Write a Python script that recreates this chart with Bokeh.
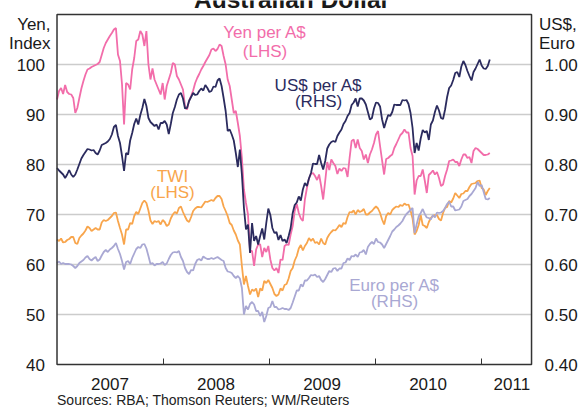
import pandas as pd
from bokeh.plotting import figure
from bokeh.models import (Range1d, LinearAxis, FixedTicker, CustomJSTickFormatter,
                          NumeralTickFormatter, Label, BoxAnnotation)
from bokeh.embed import file_html
from bokeh.resources import INLINE

# ---------------- data (weekly) ----------------
dates = pd.date_range("2007-01-01", periods=214, freq="7D")

yen_lhs = [
    93.0, 94.7, 95.3, 94.1, 95.9, 94.5, 94.1, 94.0, 93.3, 90.3,
    91.3, 93.3, 95.2, 96.7, 98.0, 99.0, 99.2, 99.5, 99.7, 99.9,
    100.1, 100.5, 101.9, 103.3, 104.3, 105.0, 105.7, 106.3, 107.0, 107.3,
    102.0, 100.7, 96.0, 88.0, 96.3, 96.0, 95.0, 99.0, 101.3, 104.7,
    105.0, 106.7, 106.0, 103.7, 106.7, 100.0, 97.0, 99.2, 97.0, 96.0,
    95.0, 94.0, 96.3, 93.0, 95.7, 97.0, 98.3, 100.3, 100.0, 97.7,
    97.0, 96.0, 95.0, 91.7, 91.0, 92.8, 93.7, 94.8, 96.3, 97.3,
    98.1, 99.0, 99.7, 100.5, 101.2, 101.9, 103.0, 103.2, 102.7, 103.1,
    104.0, 103.7, 101.7, 100.0, 97.0, 95.7, 93.0, 90.3, 90.7, 88.3,
    85.7, 81.3, 75.0, 72.3, 70.0, 62.7, 62.7, 59.7, 63.0, 64.0,
    64.0, 61.5, 63.3, 62.5, 63.7, 61.0, 59.3, 58.8, 59.3, 58.3,
    61.0, 60.9, 63.7, 64.0, 63.9, 66.0, 67.7, 70.7, 72.1, 70.3,
    69.2, 68.7, 73.0, 75.3, 77.2, 78.1, 78.3, 77.7, 76.9, 78.0,
    75.7, 73.0, 76.7, 80.5, 78.9, 81.0, 80.3, 79.7, 78.1, 79.2,
    78.7, 79.3, 79.2, 77.5, 81.3, 84.7, 85.0, 83.3, 85.0, 83.3,
    82.7, 81.0, 82.0, 80.3, 82.0, 83.0, 84.3, 86.0, 86.7, 83.7,
    80.8, 78.0, 81.1, 81.3, 81.7, 82.0, 83.3, 84.1, 85.0, 85.9,
    86.3, 87.0, 86.4, 86.4, 83.3, 81.7, 74.0, 76.8, 77.7, 77.7,
    79.0, 76.8, 74.3, 77.9, 78.3, 78.8, 78.0, 78.5, 77.3, 75.7,
    76.0, 77.7, 79.0, 80.7, 80.8, 81.0, 80.5, 80.5, 79.7, 81.0,
    82.0, 82.0, 81.3, 81.5, 80.3, 82.7, 83.3, 83.1, 82.7, 82.3,
    81.9, 81.9, 82.0, 82.3,
]

usd_rhs = [
    0.793, 0.788, 0.784, 0.780, 0.773, 0.780, 0.789, 0.780, 0.775, 0.780,
    0.790, 0.801, 0.812, 0.819, 0.825, 0.831, 0.830, 0.828, 0.829, 0.823,
    0.820, 0.828, 0.839, 0.841, 0.843, 0.846, 0.851, 0.860, 0.875, 0.879,
    0.857, 0.843, 0.817, 0.787, 0.823, 0.820, 0.848, 0.863, 0.881, 0.892,
    0.880, 0.899, 0.913, 0.931, 0.917, 0.893, 0.885, 0.881, 0.877, 0.880,
    0.870, 0.883, 0.883, 0.887, 0.880, 0.861, 0.881, 0.903, 0.915, 0.930,
    0.940, 0.943, 0.932, 0.912, 0.913, 0.927, 0.935, 0.943, 0.939, 0.940,
    0.947, 0.952, 0.948, 0.959, 0.953, 0.945, 0.947, 0.956, 0.955, 0.968,
    0.972, 0.957, 0.933, 0.907, 0.867, 0.870, 0.860, 0.848, 0.823, 0.795,
    0.830, 0.780, 0.713, 0.670, 0.680, 0.623, 0.683, 0.647, 0.657, 0.640,
    0.657, 0.672, 0.650, 0.683, 0.712, 0.699, 0.673, 0.663, 0.665, 0.649,
    0.659, 0.647, 0.650, 0.643, 0.657, 0.673, 0.703, 0.719, 0.724, 0.736,
    0.728, 0.750, 0.763, 0.757, 0.772, 0.783, 0.802, 0.801, 0.801, 0.819,
    0.803, 0.790, 0.807, 0.832, 0.840, 0.845, 0.847, 0.845, 0.857, 0.864,
    0.870, 0.881, 0.887, 0.897, 0.903, 0.919, 0.924, 0.932, 0.916, 0.932,
    0.932, 0.928, 0.920, 0.905, 0.890, 0.893, 0.912, 0.924, 0.923, 0.916,
    0.890, 0.873, 0.887, 0.899, 0.897, 0.905, 0.920, 0.919, 0.919, 0.919,
    0.929, 0.928, 0.929, 0.921, 0.903, 0.873, 0.823, 0.843, 0.828, 0.852,
    0.869, 0.864, 0.867, 0.849, 0.880, 0.888, 0.905, 0.918, 0.908, 0.893,
    0.891, 0.910, 0.935, 0.953, 0.958, 0.969, 0.983, 0.985, 0.975, 0.996,
    1.007, 0.999, 0.987, 0.977, 0.968, 0.985, 0.992, 1.001, 1.010, 0.998,
    0.992, 0.991, 0.997, 1.010,
]

twi_lhs = [
    65.0, 64.7, 65.2, 64.4, 64.5, 64.9, 65.1, 65.5, 65.5, 64.3,
    64.1, 65.3, 65.8, 66.2, 66.8, 67.6, 67.3, 66.7, 67.0, 67.3,
    67.0, 67.0, 68.4, 68.9, 68.7, 68.9, 69.3, 69.7, 70.3, 70.4,
    68.7, 67.3, 66.0, 64.0, 67.0, 67.0, 68.3, 68.1, 69.7, 70.5,
    70.1, 71.2, 72.3, 72.8, 72.3, 70.8, 68.8, 68.1, 68.7, 68.5,
    68.7, 68.0, 68.9, 68.5, 67.7, 68.0, 69.2, 70.0, 70.5, 70.2,
    71.3, 71.6, 70.5, 69.6, 68.8, 68.5, 69.5, 70.7, 71.2, 71.5,
    71.5, 71.4, 72.0, 72.6, 72.5, 72.7, 72.9, 72.7, 73.3, 73.7,
    73.7, 73.1, 71.6, 70.7, 69.7, 68.3, 67.9, 66.8, 66.0, 64.8,
    64.0, 59.7, 56.0, 57.7, 55.7, 54.0, 55.0, 54.7, 55.2, 53.5,
    55.2, 54.8, 56.7, 56.3, 56.9, 56.1, 55.3, 54.1, 53.7, 54.0,
    55.2, 54.8, 55.9, 56.1, 57.2, 58.7, 59.3, 60.8, 61.7, 63.2,
    63.9, 62.8, 63.7, 64.3, 65.3, 64.7, 65.2, 64.3, 64.5, 64.0,
    65.2, 64.3, 64.0, 65.3, 66.0, 66.5, 66.9, 66.8, 67.3, 67.9,
    67.5, 68.3, 68.1, 69.5, 70.5, 70.4, 70.8, 70.0, 70.9, 70.5,
    70.7, 71.1, 70.0, 70.0, 70.4, 70.7, 71.2, 71.6, 71.2, 70.3,
    69.0, 68.0, 69.7, 70.3, 70.0, 70.9, 71.3, 71.6, 71.5, 71.9,
    71.7, 72.2, 71.9, 72.0, 70.8, 69.2, 66.0, 66.7, 67.9, 69.9,
    67.9, 67.7, 67.3, 68.5, 69.3, 69.7, 69.9, 69.9, 69.1, 68.8,
    70.3, 71.3, 71.5, 72.7, 72.4, 73.2, 74.3, 73.8, 73.3, 74.1,
    74.2, 74.7, 74.7, 75.5, 76.1, 76.2, 76.3, 76.7, 76.8, 75.3,
    75.0, 73.9, 74.7, 75.3,
]

euro_rhs = [
    0.603, 0.606, 0.601, 0.603, 0.601, 0.601, 0.601, 0.600, 0.597, 0.593,
    0.597, 0.603, 0.606, 0.609, 0.614, 0.617, 0.611, 0.608, 0.612, 0.615,
    0.607, 0.610, 0.618, 0.625, 0.629, 0.625, 0.630, 0.633, 0.637, 0.643,
    0.631, 0.621, 0.607, 0.590, 0.605, 0.607, 0.601, 0.613, 0.622, 0.631,
    0.635, 0.633, 0.640, 0.641, 0.632, 0.617, 0.601, 0.603, 0.598, 0.601,
    0.601, 0.602, 0.605, 0.599, 0.602, 0.611, 0.619, 0.624, 0.625, 0.624,
    0.627, 0.615, 0.607, 0.593, 0.585, 0.581, 0.589, 0.588, 0.601, 0.609,
    0.611, 0.608, 0.616, 0.613, 0.611, 0.611, 0.613, 0.611, 0.613, 0.615,
    0.612, 0.609, 0.607, 0.593, 0.586, 0.585, 0.583, 0.577, 0.573, 0.577,
    0.572, 0.553, 0.500, 0.517, 0.510, 0.521, 0.525, 0.520, 0.507, 0.507,
    0.497, 0.505, 0.485, 0.497, 0.513, 0.515, 0.527, 0.515, 0.515, 0.510,
    0.511, 0.513, 0.511, 0.511, 0.509, 0.513, 0.524, 0.536, 0.548, 0.548,
    0.560, 0.556, 0.568, 0.568, 0.573, 0.579, 0.578, 0.580, 0.575, 0.577,
    0.569, 0.565, 0.571, 0.579, 0.587, 0.585, 0.592, 0.593, 0.587, 0.592,
    0.592, 0.603, 0.604, 0.612, 0.609, 0.617, 0.616, 0.620, 0.615, 0.624,
    0.625, 0.629, 0.620, 0.635, 0.641, 0.645, 0.641, 0.652, 0.645, 0.644,
    0.640, 0.633, 0.641, 0.649, 0.657, 0.666, 0.670, 0.675, 0.678, 0.682,
    0.687, 0.695, 0.701, 0.705, 0.709, 0.713, 0.663, 0.680, 0.696, 0.703,
    0.711, 0.701, 0.694, 0.693, 0.690, 0.699, 0.694, 0.704, 0.703, 0.704,
    0.707, 0.713, 0.721, 0.726, 0.716, 0.716, 0.708, 0.709, 0.710, 0.716,
    0.727, 0.729, 0.731, 0.737, 0.741, 0.747, 0.753, 0.765, 0.757, 0.759,
    0.745, 0.731, 0.730, 0.733,
]

lhs_ticks = [40, 50, 60, 70, 80, 90, 100]
rhs_ticks = [0.40, 0.50, 0.60, 0.70, 0.80, 0.90, 1.00]
year_label_pos = [2007.5, 2008.5, 2009.5, 2010.5, 2011.29]
year_bounds = [2008, 2009, 2010, 2011]

# plot box (data limits of the framed area)
X0, X1 = 2007.0, 2011.476
Y0, Y1 = 40.0, 110.0

# decimal-year x values for the weekly dates
t = [2007 + (d - pd.Timestamp("2007-01-01")).days / 365.25 for d in dates]

PINK = "#F26DAA"
NAVY = "#2B2B5E"
ORANGE = "#F8A54C"
LAV = "#A9A8D3"
TXT = "#1a1a1a"
FONT = "Liberation Sans"

# the Bokeh frame covers the whole canvas; the chart box sits inside it
p = figure(width=578, height=407, output_backend="svg", toolbar_location=None,
           x_range=Range1d(2006.467, 2011.919), y_range=Range1d(31.4, 112.8),
           x_axis_location=None, y_axis_location=None,
           min_border_left=0, min_border_right=0, min_border_top=0,
           min_border_bottom=0, background_fill_color="white",
           border_fill_color="white", outline_line_color=None)
p.extra_y_ranges = {"rhs": Range1d(0.314, 1.128)}
p.grid.visible = False

# horizontal grid lines at the LHS ticks
grid_levels = lhs_ticks[1:]
p.segment(x0=X0, x1=X1, y0=grid_levels, y1=grid_levels,
          line_color="#cccccc", line_width=1.5)

# frame box
p.add_layout(BoxAnnotation(left=X0, right=X1, bottom=Y0, top=Y1,
                           fill_color=None, line_color="#333333",
                           line_width=1.5, line_alpha=1.0))

# bottom axis: tick marks at year boundaries
xt = LinearAxis(ticker=FixedTicker(ticks=year_bounds), fixed_location=Y0,
                bounds=(X0, X1),
                formatter=CustomJSTickFormatter(code="return '';"))
xt.major_label_text_font_size = "0px"
xt.major_tick_in = 6
xt.major_tick_out = 0
xt.major_tick_line_color = "#333333"
xt.major_tick_line_width = 1
xt.minor_tick_line_color = None
xt.axis_line_color = None
p.add_layout(xt, "below")

# bottom axis: year labels centred in each year
xl = LinearAxis(ticker=FixedTicker(ticks=year_label_pos), fixed_location=Y0,
                bounds=(X0, X1),
                formatter=CustomJSTickFormatter(code="return String(Math.floor(tick));"))
xl.major_tick_line_color = None
xl.minor_tick_line_color = None
xl.axis_line_color = None
xl.major_label_standoff = 7
p.add_layout(xl, "below")

ya = LinearAxis(ticker=FixedTicker(ticks=lhs_ticks), fixed_location=X0,
                bounds=(Y0, Y1))
ya.major_tick_line_color = None
ya.minor_tick_line_color = None
ya.axis_line_color = None
ya.major_label_standoff = 6
p.add_layout(ya, "left")

ra = LinearAxis(y_range_name="rhs", ticker=FixedTicker(ticks=rhs_ticks),
                formatter=NumeralTickFormatter(format="0.00"),
                fixed_location=X1, bounds=(0.40, 1.10))
ra.major_tick_line_color = None
ra.minor_tick_line_color = None
ra.axis_line_color = None
ra.major_label_standoff = 7
p.add_layout(ra, "right")

for ax in (xl, ya, ra):
    ax.major_label_text_font = FONT
    ax.major_label_text_font_size = "17px"
    ax.major_label_text_color = TXT

p.line(t, twi_lhs, color=ORANGE, line_width=1.8)
p.line(t, euro_rhs, y_range_name="rhs", color=LAV, line_width=1.8)
p.line(t, yen_lhs, color=PINK, line_width=1.8)
p.line(t, usd_rhs, y_range_name="rhs", color=NAVY, line_width=1.8)


def lab(x, y, text, color, align="center", size="17px", baseline="middle",
        style="normal"):
    p.add_layout(Label(x=x, y=y, text=text, text_align=align,
                       text_baseline=baseline, text_font=FONT,
                       text_font_size=size, text_color=color,
                       text_font_style=style))


# series labels
lab(2008.962, 106.4, "Yen per A$", PINK)
lab(2008.962, 102.6, "(LHS)", PINK)
lab(2009.467, 95.8, "US$ per A$", NAVY)
lab(2009.467, 92.6, "(RHS)", NAVY)
lab(2008.090, 77.6, "TWI", ORANGE)
lab(2008.090, 74.4, "(LHS)", ORANGE)
lab(2010.184, 55.9, "Euro per A$", LAV)
lab(2010.184, 52.7, "(RHS)", LAV)

# unit labels, title (its top is cropped off in the original) and source note
lab(2006.939, 108.0, "Yen,", TXT, align="right")
lab(2006.939, 104.2, "Index", TXT, align="right")
lab(2011.546, 108.0, "US$,", TXT, align="left")
lab(2011.546, 104.2, "Euro", TXT, align="left")
lab(2009.217, 113.1, "Australian Dollar", TXT, size="24.5px", style="bold")
lab(2007.0, 33.0, "Sources: RBA; Thomson Reuters; WM/Reuters", "#222222",
    align="left", size="14px")

open("out.html", "w").write(file_html(p, INLINE))
